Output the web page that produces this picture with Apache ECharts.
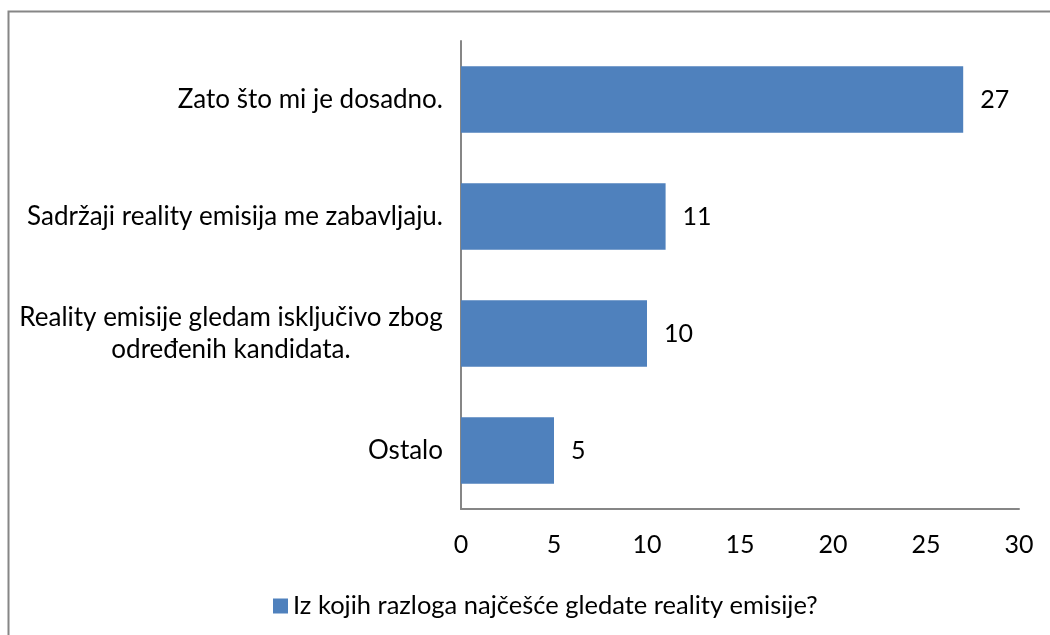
<!DOCTYPE html>
<html>
<head>
<meta charset="utf-8">
<script src="https://cdn.jsdelivr.net/npm/echarts@6/dist/echarts.min.js"></script>
<style>
  html, body { margin: 0; padding: 0; background: #fff; }
  #chart { width: 1050px; height: 635px; }
</style>
</head>
<body>
<div id="chart"></div>
<script>
const categories = [
  'Zato što mi je dosadno.',
  'Sadržaji reality emisija me zabavljaju.',
  'Reality emisije gledam isključivo zbog\nodređenih kandidata.',
  'Ostalo'
]
const values = [27, 11, 10, 5]
const seriesName = 'Iz kojih razloga najčešće gledate reality emisije?'
const xTicks = [0, 5, 10, 15, 20, 25, 30]

const FONT = 'Lato'
const FS = 26

// width of the longest line, so multi-line labels can be centred inside their block
function textWidth(s) {
  const ctx = document.createElement('canvas').getContext('2d')
  ctx.font = FS + 'px ' + FONT
  return Math.ceil(ctx.measureText(s).width)
}

const chart = echarts.init(document.getElementById('chart'))

chart.setOption({
  animation: false,
  textStyle: { fontFamily: FONT },
  grid: { left: 461, right: 31, top: 41, bottom: 126, containLabel: false },
  legend: {
    left: 268, top: 588,
    itemWidth: 15, itemHeight: 15, itemGap: 6,
    icon: 'rect',
    textStyle: { fontSize: 25.5, color: '#000', fontFamily: FONT },
    data: [seriesName]
  },
  graphic: [{
    type: 'polyline',
    shape: { points: [[8.5, 640], [8.5, 11.5], [1060, 11.5]] },
    style: { stroke: '#868686', lineWidth: 2, fill: null }
  }],
  xAxis: {
    type: 'value', min: xTicks[0], max: xTicks[xTicks.length - 1], interval: 5,
    axisLine: { show: true, lineStyle: { color: '#868686', width: 2 } },
    axisTick: { show: false },
    splitLine: { show: false },
    axisLabel: { color: '#000', fontSize: 25, margin: 23, fontFamily: FONT }
  },
  yAxis: {
    type: 'category', data: categories, inverse: true,
    axisLine: { show: true, lineStyle: { color: '#868686', width: 2 } },
    axisTick: { show: false },
    axisLabel: {
      color: '#000', fontSize: FS, margin: 18, lineHeight: 32, fontFamily: FONT,
      formatter: v => {
        const lines = v.split('\n')
        if (lines.length === 1) return v
        return lines.map(l => '{c|' + l + '}').join('\n')
      },
      rich: {
        c: {
          fontSize: FS, color: '#000', fontFamily: FONT, lineHeight: 32,
          align: 'center', width: textWidth(categories[2].split('\n')[0])
        }
      }
    }
  },
  series: [{
    name: seriesName,
    type: 'bar',
    data: values,
    barWidth: '57%',
    itemStyle: { color: '#4F81BD' },
    label: { show: true, position: 'right', distance: 17, color: '#000', fontSize: 25, fontFamily: FONT }
  }]
})
</script>
</body>
</html>
